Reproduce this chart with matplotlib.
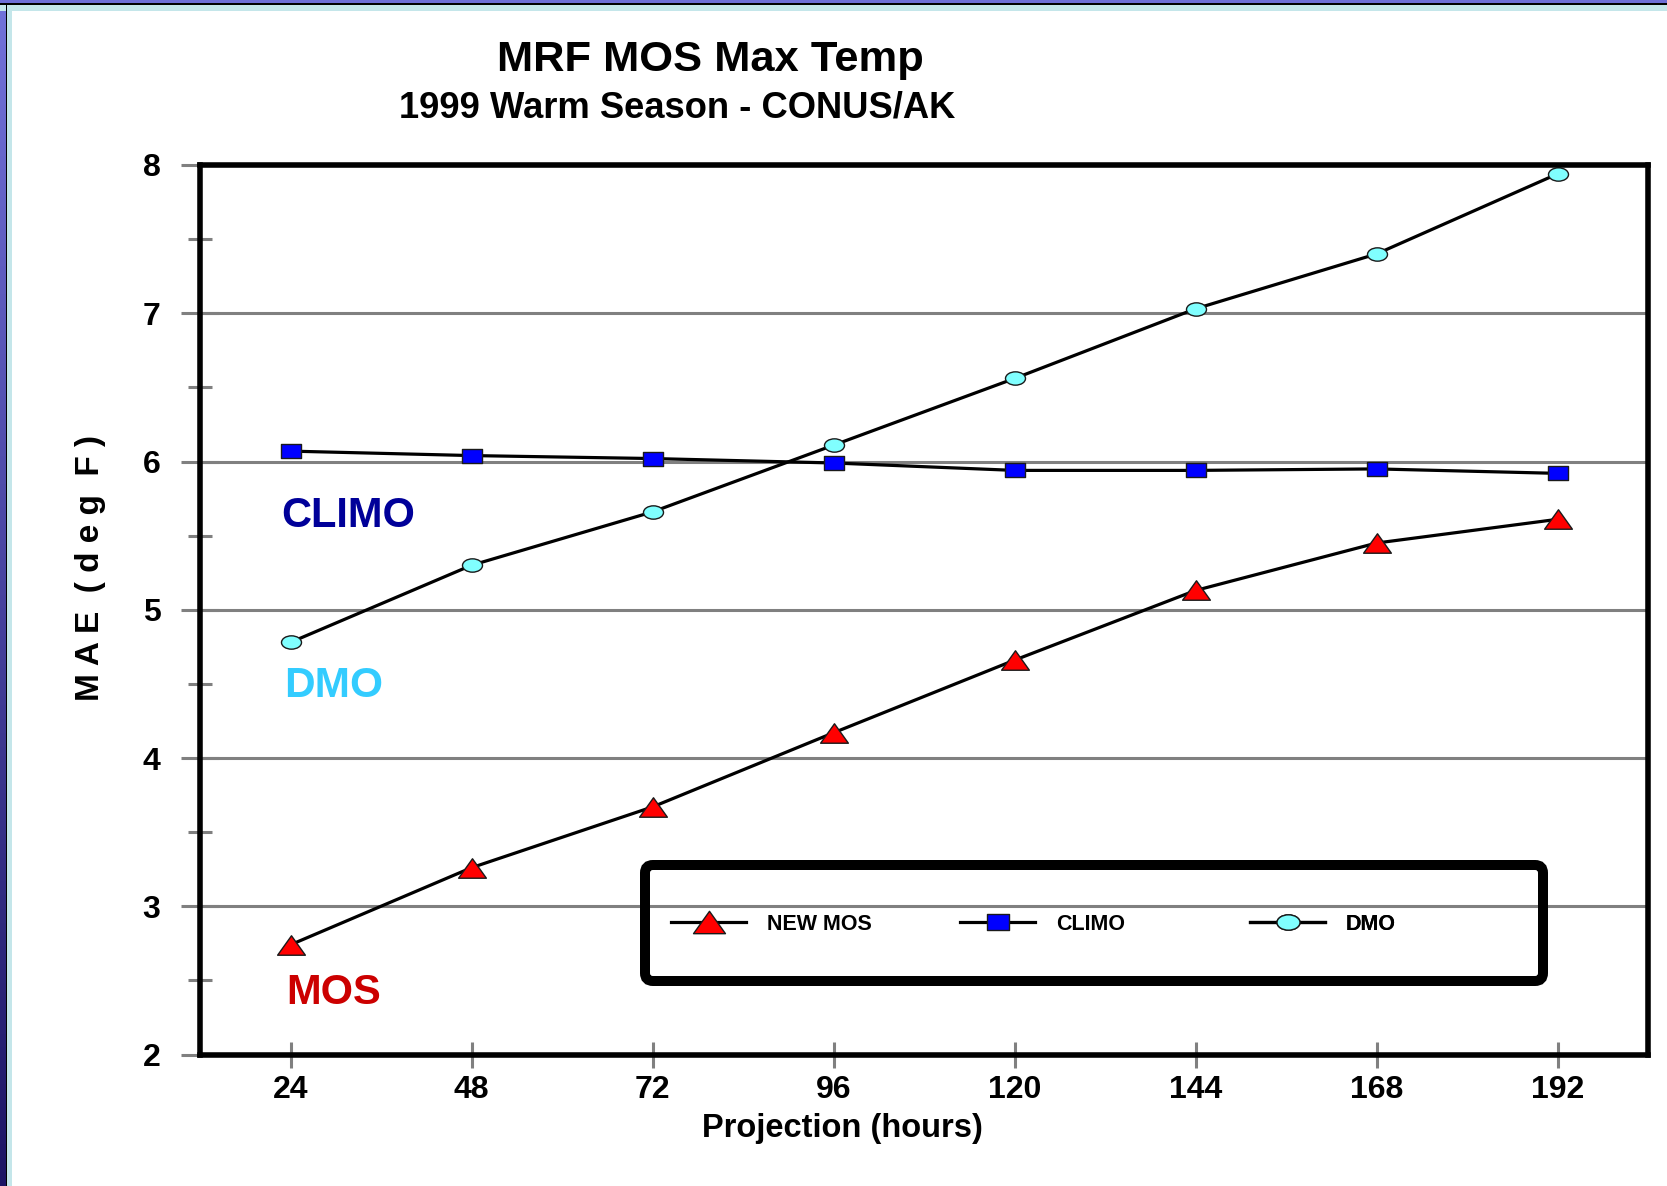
import numpy as np
import matplotlib
matplotlib.use('Agg')
import matplotlib.pyplot as plt
from matplotlib.path import Path
from matplotlib.patches import FancyBboxPatch, Rectangle
from matplotlib.transforms import IdentityTransform
from matplotlib.colors import LinearSegmentedColormap

# ---------------- data ----------------
projection_hours = [24, 48, 72, 96, 120, 144, 168, 192]
new_mos = [2.74, 3.26, 3.67, 4.17, 4.66, 5.13, 5.45, 5.61]
climo = [6.07, 6.04, 6.02, 5.99, 5.94, 5.94, 5.95, 5.92]
dmo = [4.78, 5.30, 5.66, 6.11, 6.56, 7.03, 7.40, 7.94]
series_labels = ['NEW MOS', 'CLIMO', 'DMO']
y_ticks = [2, 3, 4, 5, 6, 7, 8]
y_minor_ticks = [2.5, 3.5, 4.5, 5.5, 6.5, 7.5]

plt.rcParams['font.family'] = ['Liberation Sans', 'DejaVu Sans']
plt.rcParams['font.weight'] = 'bold'

W, H = 1667, 1186
fig = plt.figure(figsize=(W / 100, H / 100), dpi=100, facecolor='white')


def fx(px):
    return px / W


def fy(py):
    return 1 - py / H


# ---------------- slide frame ----------------
ident = IdentityTransform()
fig.add_artist(Rectangle((0, H - 11), W, 6, transform=ident, color='#c4e6ea', lw=0))
fig.add_artist(Rectangle((7, 0), 5, H - 5, transform=ident, color='#c4e6ea', lw=0))
fig.add_artist(Rectangle((0, H - 5), W, 1.6, transform=ident, color='black', lw=0))
fig.add_artist(Rectangle((0, H - 3.4), W, 3.4, transform=ident, color='#6e6ed6', lw=0))
gax = fig.add_axes([0, 0, 7 / W, 1 - 3.4 / H])
gax.axis('off')
cmap = LinearSegmentedColormap.from_list('frame', ['#1c1464', '#7272da'])
gax.imshow(np.linspace(0, 1, 256).reshape(-1, 1), aspect='auto', cmap=cmap,
           origin='lower', extent=[0, 1, 0, 1])
fig.add_artist(Rectangle((6, 0), 1.2, H - 4, transform=ident, color='black', lw=0))

# ---------------- axes ----------------
ax = fig.add_axes([fx(200), fy(1054.5), 1448 / W, 889.5 / H])
ax.set_xlim(12, 204)
ax.set_ylim(2, 8)
ax.set_axisbelow(True)

ellipse = Path(Path.unit_circle().vertices * np.array([1.5, 1.0]), Path.unit_circle().codes)
rect = Path([(-1, -0.7), (1, -0.7), (1, 0.7), (-1, 0.7), (-1, -0.7)], closed=True)
tri = Path([(-1, -0.7), (1, -0.7), (0, 0.7), (-1, -0.7)], closed=True)

common = dict(color='black', lw=2.3, mec='#1a1a1a', mew=1.0)
l_mos, = ax.plot(projection_hours, new_mos, marker=tri, ms=20, mfc='#ff0000',
                 label=series_labels[0], **common)
l_cli, = ax.plot(projection_hours, climo, marker=rect, ms=14.4, mfc='#0000ff',
                 label=series_labels[1], **common)
l_dmo, = ax.plot(projection_hours, dmo, marker=ellipse, ms=14.4, mfc='#80ffff',
                 label=series_labels[2], **common)

for s in ax.spines.values():
    s.set_linewidth(4)
    s.set_color('black')

ax.set_yticks(y_ticks)
ax.set_yticks(y_minor_ticks, minor=True)
ax.set_xticks(projection_hours)
ax.grid(axis='y', which='major', color='#808080', lw=2.2)
ax.tick_params(axis='y', which='major', direction='inout', length=27, width=2.2,
               color='#808080', labelsize=23, pad=15)
ax.tick_params(axis='y', which='minor', direction='inout', length=17, width=2.2,
               color='#808080')
ax.tick_params(axis='x', which='major', direction='inout', length=19, width=2.2,
               color='#808080', labelsize=23, pad=5)

ax.set_ylabel('M A E  ( d e g  F )', fontsize=24, fontweight='bold',
              va='center', ha='center')
ax.yaxis.set_label_coords((90 - 200) / 1448, (1054.5 - 568) / 889.5)
ax.set_xlabel('Projection (hours)', fontsize=23.5, fontweight='bold',
              va='center', ha='center')
ax.xaxis.set_label_coords((842 - 200) / 1448, (1054.5 - 1129) / 889.5)

# series name annotations
ax.text(22.8, 5.558, 'CLIMO', color='#000099', fontsize=30, va='baseline', ha='left')
ax.text(23.2, 4.41, 'DMO', color='#33ccff', fontsize=30.5, va='baseline', ha='left')
ax.text(23.5, 2.34, 'MOS', color='#cc0000', fontsize=30, va='baseline', ha='left')

# titles
fig.text(fx(710), fy(71), 'MRF MOS Max Temp', fontsize=31.3, ha='center', va='baseline')
fig.text(fx(677), fy(118), '1999 Warm Season - CONUS/AK', fontsize=26.2,
         ha='center', va='baseline')

# legend
for h, x in zip([l_mos, l_cli, l_dmo], [671, 960, 1250]):
    leg = ax.legend(handles=[h], loc='center left',
                    bbox_to_anchor=(fx(x), fy(924)), bbox_transform=fig.transFigure,
                    frameon=False, fontsize=15.5, borderpad=0, borderaxespad=0,
                    handlelength=3.5, handletextpad=0.95, markerscale=1.15)
    ax.add_artist(leg)

frame = FancyBboxPatch((645, H - 981), 898, 116,
                       boxstyle='round,pad=0,rounding_size=8', lw=7.2,
                       ec='black', fc='none', transform=ident)
fig.add_artist(frame)

fig.savefig('out.png', dpi=100, facecolor='white')
